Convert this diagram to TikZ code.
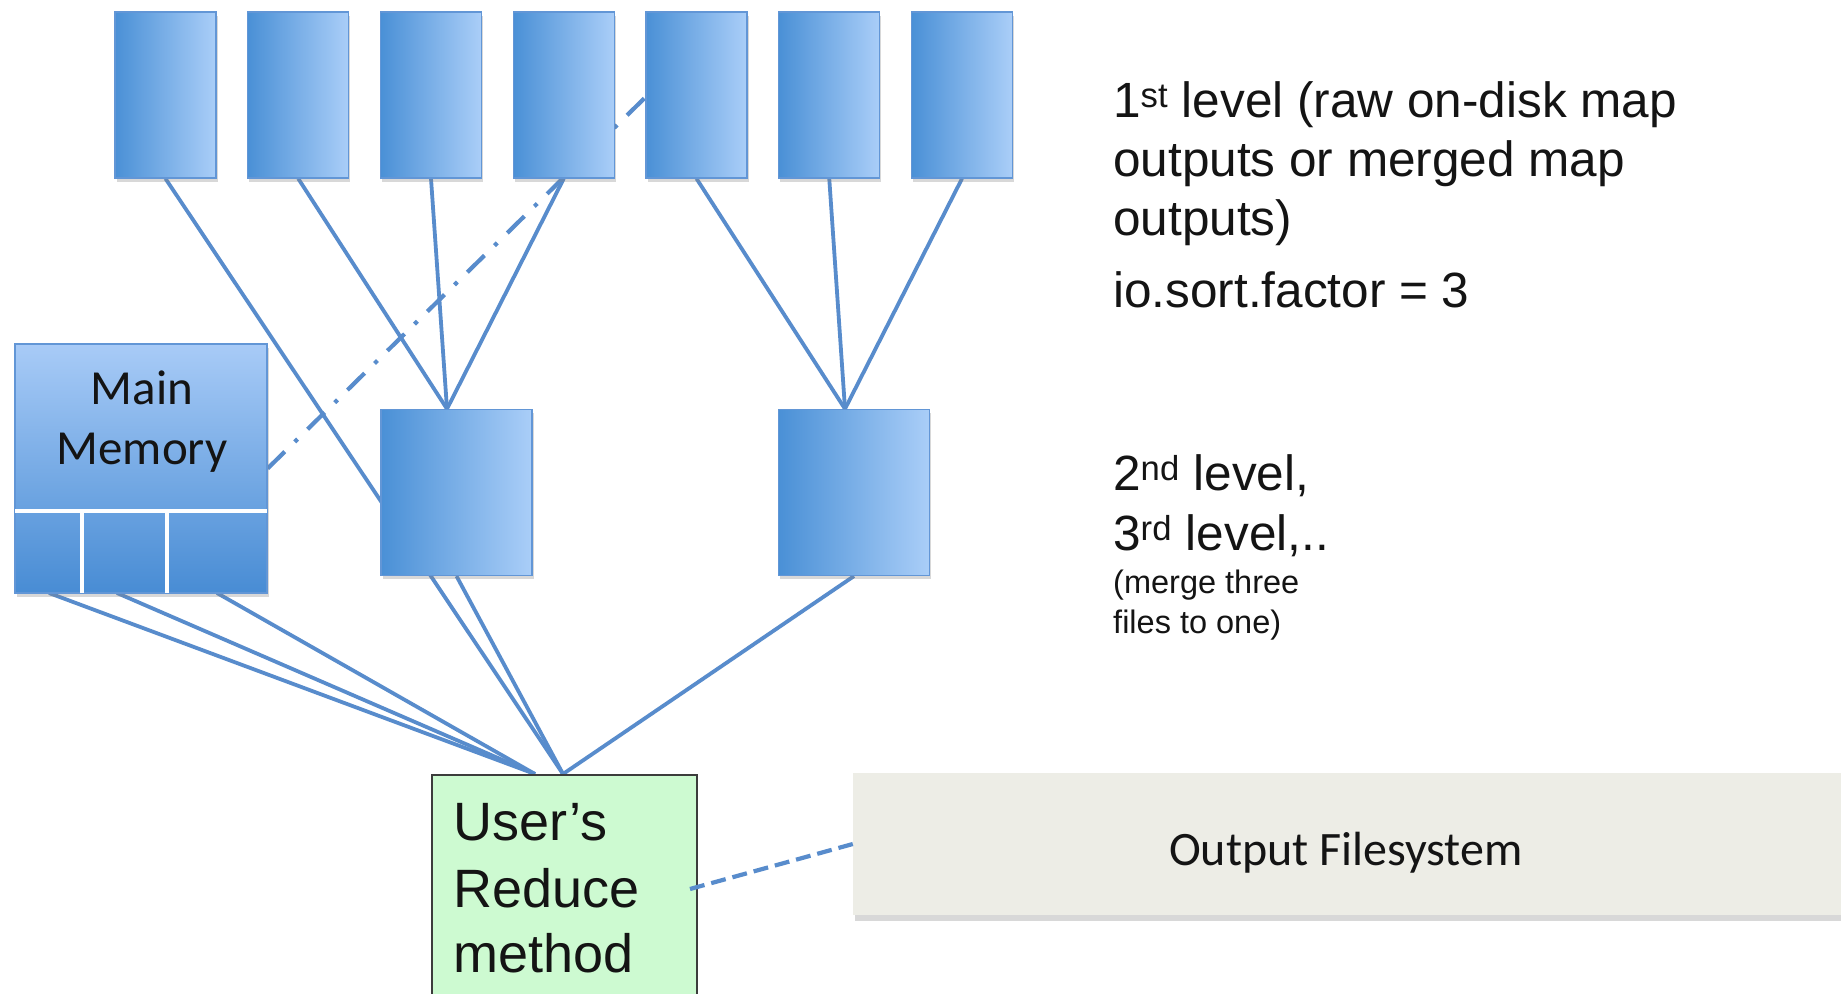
\documentclass[tikz,border=0pt]{standalone}
\usepackage{fontspec}
\setmainfont{Liberation Sans}
\newfontfamily\carlito{Carlito}
\usetikzlibrary{calc,backgrounds,shadows}

\definecolor{boxL}{RGB}{74,144,214}
\definecolor{boxR}{RGB}{170,206,248}
\definecolor{boxEdge}{RGB}{98,150,214}
\definecolor{wireblue}{RGB}{88,140,204}
\definecolor{memTop}{RGB}{168,203,247}
\definecolor{memBot}{RGB}{72,140,212}
\definecolor{redFill}{RGB}{205,250,209}
\definecolor{redEdge}{RGB}{60,60,60}
\definecolor{fsFill}{RGB}{237,237,230}
\definecolor{ink}{RGB}{20,20,20}

\begin{document}
\begin{tikzpicture}[x=1pt,y=-1pt,
  segment/.style={draw=boxEdge, line width=1.2pt, left color=boxL, right color=boxR,
    minimum width=101pt, minimum height=166pt, inner sep=0pt,
    drop shadow={shadow xshift=1.5pt, shadow yshift=-3.5pt, opacity=.3}},
  merged/.style={segment, minimum width=151pt},
  wire/.style={draw=wireblue, line width=3.8pt},
  bigtext/.style={inner sep=0pt, anchor=base west, text=ink, font=\fontsize{49.5pt}{59pt}\selectfont},
  smalltext/.style={inner sep=0pt, anchor=base west, text=ink, font=\fontsize{32.5pt}{40pt}\selectfont},
  reducetext/.style={inner sep=0pt, anchor=base west, text=ink, font=\fontsize{54pt}{66pt}\selectfont},
  carlitotext/.style={inner sep=0pt, anchor=base, text=ink, font=\carlito\fontsize{49pt}{60pt}\selectfont},
]
\useasboundingbox (0,0) rectangle (1841,993);

% first-level segments
\foreach \i in {1,...,7} {
  \node[segment] (m\i) at ({165.5+132.75*(\i-1)},95) {};
}

% second-level merged segments
\node[merged] (ma) at (456.5,492.5) {};
\node[merged] (mb) at (854,492.5) {};

% main memory with its three in-memory segments
\node[draw=boxEdge, line width=1.2pt, top color=memTop, bottom color=memBot,
      minimum width=252pt, minimum height=249pt, inner sep=0pt,
      drop shadow={shadow xshift=1.5pt, shadow yshift=-3.5pt, opacity=.3}] (mm) at (141,468.5) {};
\draw[white, line width=4pt] (15,511) -- (267,511);
\draw[white, line width=4pt] (82,511) -- (82,593);
\draw[white, line width=4pt] (167,511) -- (167,593);
\node[carlitotext] (mmA) at (142,404) {Main};
\node[carlitotext] (mmB) at (142,464) {Memory};

% reduce function
\node[draw=redEdge, line width=2pt, fill=redFill, minimum width=265pt,
      minimum height=240pt, inner sep=0pt] (red) at (564.5,895) {};
\node[reducetext] (rA) at (453,840) {User’s};
\node[reducetext] (rB) at (453,907) {Reduce};
\node[reducetext] (rC) at (453,972) {method};

% output filesystem
\node[fill=fsFill, minimum width=997pt, minimum height=142pt, inner sep=0pt,
      drop shadow={shadow xshift=2pt, shadow yshift=-6pt, opacity=.3}] (ofs) at (1351.5,844) {};
\node[inner sep=0pt, anchor=base, text=ink, font=\carlito\fontsize{48pt}{58pt}\selectfont] (ofsT) at (1346,865) {Output Filesystem};

% connection points
\coordinate (aIn) at ($(ma.north)+(-9.5,0)$);
\coordinate (bIn) at ($(mb.north)+(-9,0)$);
\coordinate (rIn) at ($(red.north)+(-1.5,0)$);
\coordinate (rMem) at ($(red.north)+(-29.5,0)$);
\coordinate (mem1) at (49,593);
\coordinate (mem2) at (117,593);
\coordinate (mem3) at (217,593);
\coordinate (spill) at (665,78);
\coordinate (rOut) at (690,889);

\begin{scope}[on background layer]
  \fill[white] (0,0) rectangle (1841,993);
  % merge tree
  \draw[wire] (m2.south) -- (aIn);
  \draw[wire] (m3.south) -- (aIn);
  \draw[wire] (m4.south) -- (aIn);
  \draw[wire] (m5.south) -- (bIn);
  \draw[wire] (m6.south) -- (bIn);
  \draw[wire] (m7.south) -- (bIn);
  \draw[wire] (m1.south) -- (rIn);
  \draw[wire] (ma.south) -- (rIn);
  \draw[wire] (mb.south) -- (rIn);
  \draw[wire] (mem1) -- (rMem);
  \draw[wire] (mem2) -- (rMem);
  \draw[wire] (mem3) -- (rMem);
  % spill from memory to disk
  \draw[draw=wireblue, line width=4.2pt, dash pattern=on 24pt off 14pt on 4pt off 14pt]
    (mm.east) -- (spill);
\end{scope}

\draw[draw=wireblue, line width=4.2pt, dash pattern=on 15pt off 7pt] (rOut) -- (ofs.west);

% level descriptions
\node[bigtext] (t1) at (1113,117) {1\textsuperscript{st} level (raw on-disk map};
\node[bigtext] (t2) at (1113,176) {outputs or merged map};
\node[bigtext] (t3) at (1113,235) {outputs)};
\node[bigtext] (t4) at (1113,307) {io.sort.factor = 3};
\node[bigtext] (t5) at (1113,490) {2\textsuperscript{nd} level,};
\node[bigtext] (t6) at (1113,550) {3\textsuperscript{rd} level,..};
\node[smalltext] (t7) at (1113,593) {(merge three};
\node[smalltext] (t8) at (1113,633) {files to one)};
\end{tikzpicture}
\end{document}
